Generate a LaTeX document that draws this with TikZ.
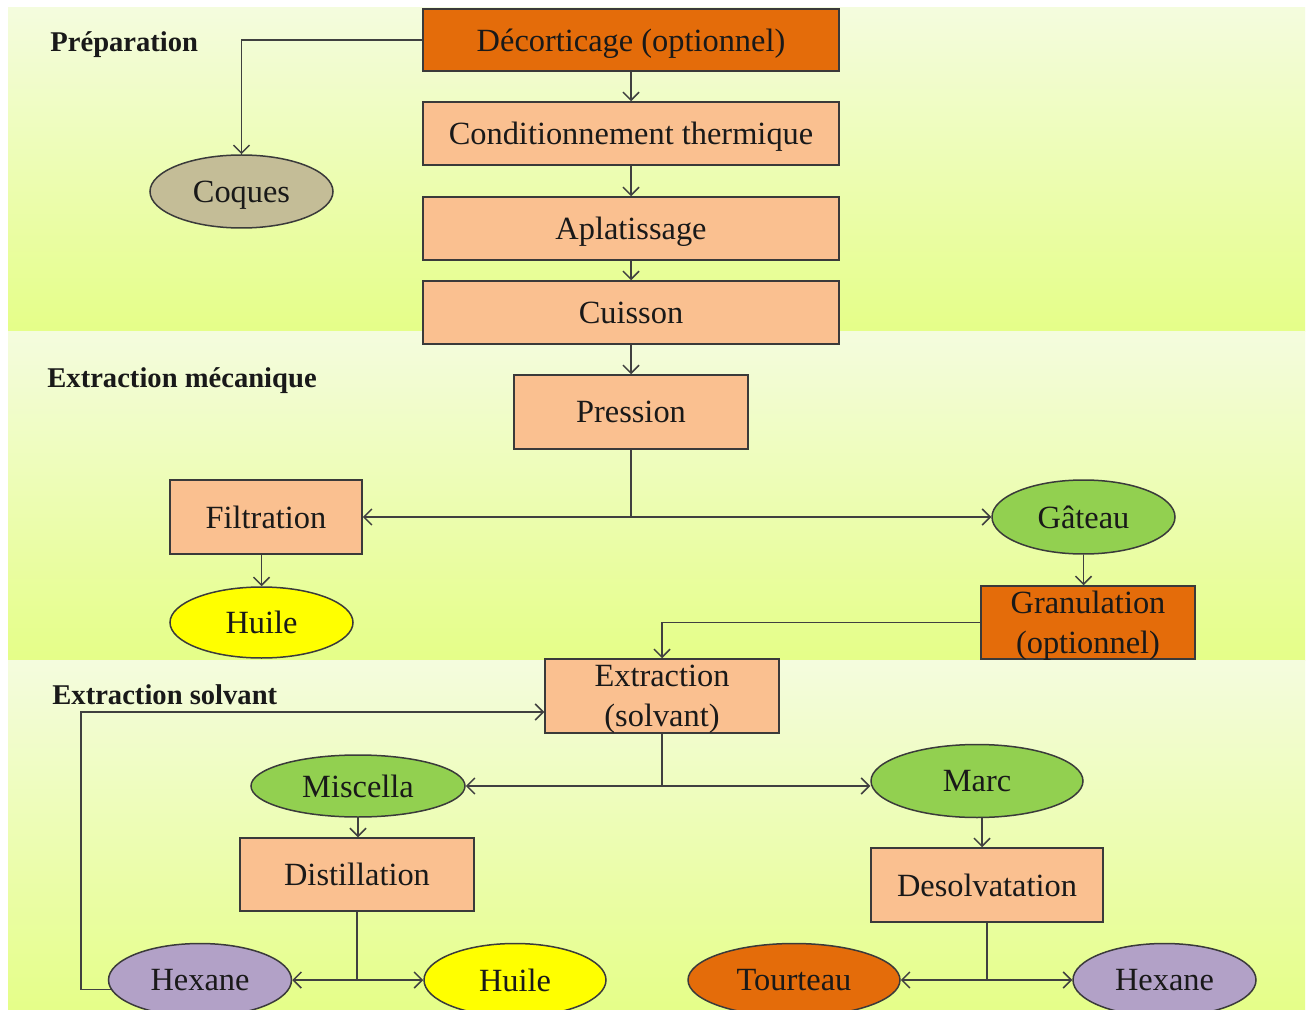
\documentclass[tikz,border=0pt]{standalone}
\usepackage{fontspec}
\setmainfont{Liberation Serif}
\usetikzlibrary{arrows.meta,shapes.geometric}
\definecolor{bandtop}{HTML}{F4FCDE}
\definecolor{bandbot}{HTML}{E5FE88}
\definecolor{edgecol}{HTML}{3A3A3A}
\definecolor{linecol}{HTML}{404040}
\definecolor{paleorange}{HTML}{FAC090}
\definecolor{deeporange}{HTML}{E46C0A}
\definecolor{leafgreen}{HTML}{92D050}
\definecolor{tan}{HTML}{C4BD97}
\definecolor{lilac}{HTML}{B2A1C7}
\definecolor{oilyellow}{HTML}{FFFF00}
\newcommand\mainfs{\fontsize{16.2}{20}\selectfont}
\newcommand\titlefs{\fontsize{14.3}{17}\selectfont\bfseries}
\begin{document}
\begin{tikzpicture}[x=0.5pt,y=-0.5pt,
  box/.style={draw=edgecol, line width=0.75pt, rectangle, inner sep=0pt,
    font=\mainfs, align=center, text=black!90, text depth=0pt},
  oval/.style={draw=edgecol, line width=0.75pt, ellipse, inner sep=0pt,
    font=\mainfs, text=black!90, text depth=0pt},
  arr/.style={draw=linecol, line width=0.75pt,
    -{Straight Barb[length=4pt,width=8pt,line width=0.75pt]}},
  title/.style={font=\titlefs, anchor=west, inner sep=0pt, text=black!90}
]
\useasboundingbox (0,0) rectangle (1311,1010);
\fill[white] (0,0) rectangle (1311,1010);

% three process bands
\shade[top color=bandtop, bottom color=bandbot] (8,8) rectangle (1305,332);
\shade[top color=bandtop, bottom color=bandbot] (8,332) rectangle (1305,660);
\shade[top color=bandtop, bottom color=bandbot] (8,660) rectangle (1305,1012);

% band titles
\node[title] (tprep) at (50,45) {Préparation};
\node[title] (tmeca) at (47,381) {Extraction mécanique};
\node[title] (tsolv) at (52,695) {Extraction solvant};

% preparation
\node[box, fill=deeporange, minimum width=208pt, minimum height=31pt] (dec) at (631,40) {Décorticage (optionnel)};
\node[box, fill=paleorange, minimum width=208pt, minimum height=31.5pt] (cond) at (631,133.5) {Conditionnement thermique};
\node[box, fill=paleorange, minimum width=208pt, minimum height=31.5pt] (apl) at (631,228.5) {Aplatissage};
\node[box, fill=paleorange, minimum width=208pt, minimum height=31.5pt] (cuis) at (631,312.5) {Cuisson};
\node[oval, fill=tan, minimum width=91.5pt, minimum height=36.5pt] (coq) at (241.5,191.5) {Coques};

% mechanical extraction
\node[box, fill=paleorange, minimum width=117pt, minimum height=37pt] (pres) at (631,412) {Pression};
\node[box, fill=paleorange, minimum width=96pt, minimum height=37pt] (filt) at (266,517) {Filtration};
\node[oval, fill=leafgreen, minimum width=91.5pt, minimum height=37pt] (gat) at (1083.5,517) {Gâteau};
\node[oval, fill=oilyellow, minimum width=91.5pt, minimum height=35.5pt] (huileA) at (261.5,622.5) {Huile};
\node[box, fill=deeporange, minimum width=107pt, minimum height=36.5pt] (gran) at (1088,622.5) {Granulation\\(optionnel)};

% solvent extraction
\node[box, fill=paleorange, minimum width=117pt, minimum height=37pt] (extr) at (662,696) {Extraction\\(solvant)};
\node[oval, fill=leafgreen, minimum width=107pt, minimum height=31pt] (misc) at (358,786) {Miscella};
\node[oval, fill=leafgreen, minimum width=106pt, minimum height=36.5pt] (marc) at (977,781) {Marc};
\node[box, fill=paleorange, minimum width=117pt, minimum height=36.5pt] (dist) at (357,874.5) {Distillation};
\node[box, fill=paleorange, minimum width=116pt, minimum height=37pt] (desol) at (987,885) {Desolvatation};
\node[oval, fill=lilac, minimum width=91.5pt, minimum height=36.5pt] (hexL) at (200,980) {Hexane};
\node[oval, fill=oilyellow, minimum width=91pt, minimum height=36.5pt] (huileB) at (515,980) {Huile};
\node[oval, fill=deeporange, minimum width=106pt, minimum height=36.5pt] (tour) at (794,980) {Tourteau};
\node[oval, fill=lilac, minimum width=91.5pt, minimum height=36.5pt] (hexR) at (1164.5,980) {Hexane};

% preparation flow
\draw[arr] (dec.west) -| (coq.north);
\draw[arr] (dec) -- (cond);
\draw[arr] (cond) -- (apl);
\draw[arr] (apl) -- (cuis);
\draw[arr] (cuis) -- (cuis.south |- pres.north);

% pressing flow
\draw[arr] (pres.south) |- (filt.east);
\draw[arr] (pres.south) |- (gat.west);
\draw[arr] (filt.south -| huileA) -- (huileA.north);
\draw[arr] (gat.south) -- (gat.south |- gran.north);
\draw[arr] (gran.west) -| (extr.north);

% solvent flow
\coordinate (loop) at (81,712);
\draw[arr] (hexL.186) -| (loop) -- (extr.west |- loop);
\draw[arr] (extr.south) |- (misc.east);
\draw[arr] (extr.south) |- (marc.west |- misc.east);
\draw[arr] (misc.south) -- (misc.south |- dist.north);
\draw[arr] (dist.south) |- (hexL.east);
\draw[arr] (dist.south) |- (huileB.west);
\draw[arr] ([xshift=2.5pt]marc.south) -- ([xshift=2.5pt]marc.south |- desol.north);
\draw[arr] (desol.south) |- (tour.east);
\draw[arr] (desol.south) |- (hexR.west);
\end{tikzpicture}
\end{document}
